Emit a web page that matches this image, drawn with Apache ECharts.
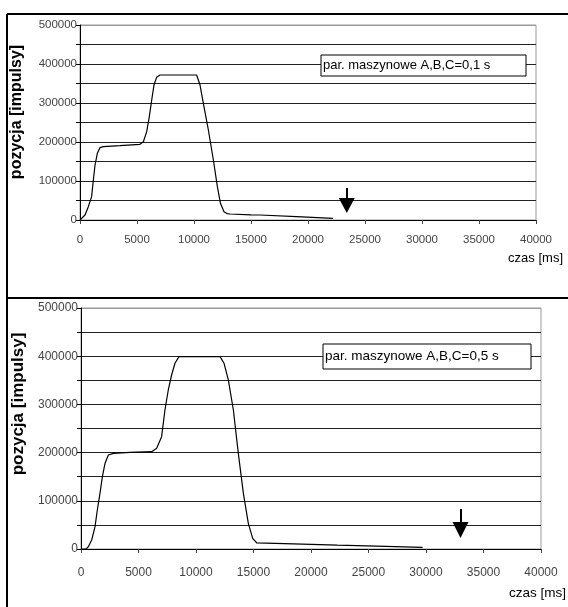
<!DOCTYPE html>
<html>
<head>
<meta charset="utf-8">
<script src="https://cdn.jsdelivr.net/npm/echarts@6/dist/echarts.min.js"></script>
<style>
html,body{margin:0;padding:0;background:#fff;}
#c{width:568px;height:607px;}
</style>
</head>
<body>
<div id="c"></div>
<script>
// ---- data ----
const timeA = [0, 440, 730, 1020, 1170, 1320, 1520, 1750, 2050, 3500, 5260, 5560, 5850, 6080, 6290, 6490, 6720, 7020, 10230, 10530, 10820, 11260, 11700, 12050, 12320, 12630, 12900, 13160, 15000, 15800, 19000, 22200];
const posA  = [0, 12800, 34200, 59800, 102600, 141000, 171000, 185500, 188000, 190500, 194000, 200800, 226500, 265000, 307700, 346000, 365800, 371800, 371800, 346000, 299000, 230800, 153800, 85500, 42700, 21400, 16500, 15400, 13000, 12800, 8500, 4400];

const timeB = [0, 440, 640, 930, 1220, 1420, 1650, 1860, 2090, 2380, 2810, 4260, 6150, 6580, 7010, 7300, 7590, 7880, 8170, 8520, 12090, 12440, 12810, 13250, 13680, 14120, 14550, 14930, 15290, 16100, 16250, 19250, 19400, 22300, 22450, 25700, 25850, 29700];
const posB  = [0, 0, 4800, 18700, 46300, 80900, 115500, 150000, 177800, 195000, 198500, 200500, 202000, 208900, 233000, 288400, 329900, 361000, 385300, 399000, 399000, 385300, 351000, 288400, 198500, 115500, 53300, 22100, 12500, 12000, 10200, 10000, 8200, 8000, 6200, 6000, 3600, 3400];

const noteA = 'par. maszynowe A,B,C=0,1 s';
const noteB = 'par. maszynowe A,B,C=0,5 s';
const arrowA = [[23400, 82000], [23400, 37000]];
const arrowB = [[33000, 83000], [33000, 39400]];
const yTitle = 'pozycja [impulsy]';
const xTitle = 'czas [ms]';

const FONT = "'Liberation Sans', Arial, sans-serif";
const zip = (a, b) => a.map((v, i) => [v, b[i]]);

function xAxisCfg(gi, fs, margin) {
  return {
    type: 'value', gridIndex: gi, min: 0, max: 40000, interval: 5000,
    axisLine: { show: true, lineStyle: { color: '#000', width: 1 } },
    axisTick: { show: true, length: 4, lineStyle: { color: '#444' } },
    axisLabel: { color: '#444', fontSize: fs, fontFamily: FONT, margin: margin,
                 formatter: v => String(v) },
    splitLine: { show: false }
  };
}
function yAxisCfg(gi, fs) {
  const cols = [];
  for (let i = 0; i < 11; i++) cols.push(i === 10 ? '#9a9a9a' : '#222');
  return {
    type: 'value', gridIndex: gi, min: 0, max: 500000, interval: 50000,
    axisLine: { show: true, lineStyle: { color: '#000', width: 1 } },
    axisTick: { show: true, length: 4, lineStyle: { color: '#000' } },
    axisLabel: {
      color: '#444', fontSize: fs, fontFamily: FONT, margin: 3,
      formatter: v => (v % 100000 === 0 ? String(v) : '')
    },
    splitLine: { show: true, lineStyle: { color: cols, width: 1 } }
  };
}
function arrowLine(pts, size) {
  return {
    silent: true, animation: false,
    symbol: ['none', 'triangle'], symbolSize: size,
    label: { show: false },
    lineStyle: { color: '#000', width: 2, type: 'solid' },
    itemStyle: { color: '#000' },
    emphasis: { disabled: true },
    data: [[{ coord: pts[0] }, { coord: pts[1] }]]
  };
}
function lineSeries(gi, t, p, arrow, size) {
  return {
    type: 'line', xAxisIndex: gi, yAxisIndex: gi,
    data: zip(t, p), showSymbol: false, symbol: 'none',
    lineStyle: { color: '#000', width: 1.2 },
    animation: false, silent: true,
    markLine: arrowLine(arrow, size)
  };
}
function noteBox(x, y, w, h, text, fs) {
  return {
    type: 'group', children: [
      { type: 'rect', shape: { x: x, y: y, width: w, height: h },
        style: { fill: '#fff', stroke: '#000', lineWidth: 1 }, z: 100 },
      { type: 'text', x: x + 2, y: y + h / 2, z: 101,
        style: { text: text, fontSize: fs, fontFamily: FONT, fill: '#000',
                 textAlign: 'left', textVerticalAlign: 'middle' } }
    ]
  };
}
function rotText(x, y, text, fs) {
  return { type: 'text', x: x, y: y, rotation: Math.PI / 2, z: 100,
    style: { text: text, fontSize: fs, fontWeight: 'bold', fontFamily: FONT, fill: '#000',
             textAlign: 'center', textVerticalAlign: 'middle' } };
}
function plainText(x, y, text, fs) {
  return { type: 'text', x: x, y: y, z: 100,
    style: { text: text, fontSize: fs, fontFamily: FONT, fill: '#000',
             textAlign: 'right', textVerticalAlign: 'middle' } };
}

const chart = echarts.init(document.getElementById('c'), null, { renderer: 'canvas' });
chart.setOption({
  backgroundColor: '#fff',
  animation: false,
  grid: [
    { left: 80, width: 456, top: 25, height: 195, show: true, borderColor: '#9a9a9a', borderWidth: 1, backgroundColor: 'transparent' },
    { left: 81, width: 460, top: 308, height: 241, show: true, borderColor: '#9a9a9a', borderWidth: 1, backgroundColor: 'transparent' }
  ],
  xAxis: [xAxisCfg(0, 11.5, 14), xAxisCfg(1, 12, 18)],
  yAxis: [yAxisCfg(0, 11.5), yAxisCfg(1, 12)],
  series: [
    lineSeries(0, timeA, posA, arrowA, [16, 15]),
    lineSeries(1, timeB, posB, arrowB, [16, 16])
  ],
  graphic: [
    { type: 'line', shape: { x1: 7, y1: 14, x2: 568, y2: 14 }, style: { stroke: '#000', lineWidth: 2 } },
    { type: 'line', shape: { x1: 7, y1: 298, x2: 568, y2: 298 }, style: { stroke: '#000', lineWidth: 2 } },
    { type: 'line', shape: { x1: 7, y1: 14, x2: 7, y2: 607 }, style: { stroke: '#000', lineWidth: 2 } },
    noteBox(321, 55, 205, 21, noteA, 13),
    noteBox(323, 344, 208, 25, noteB, 13.5),
    rotText(17, 112, yTitle, 16),
    rotText(18, 404, yTitle, 17),
    plainText(563, 258, xTitle, 13),
    plainText(566, 593, xTitle, 13.5)
  ]
});
</script>
</body>
</html>
